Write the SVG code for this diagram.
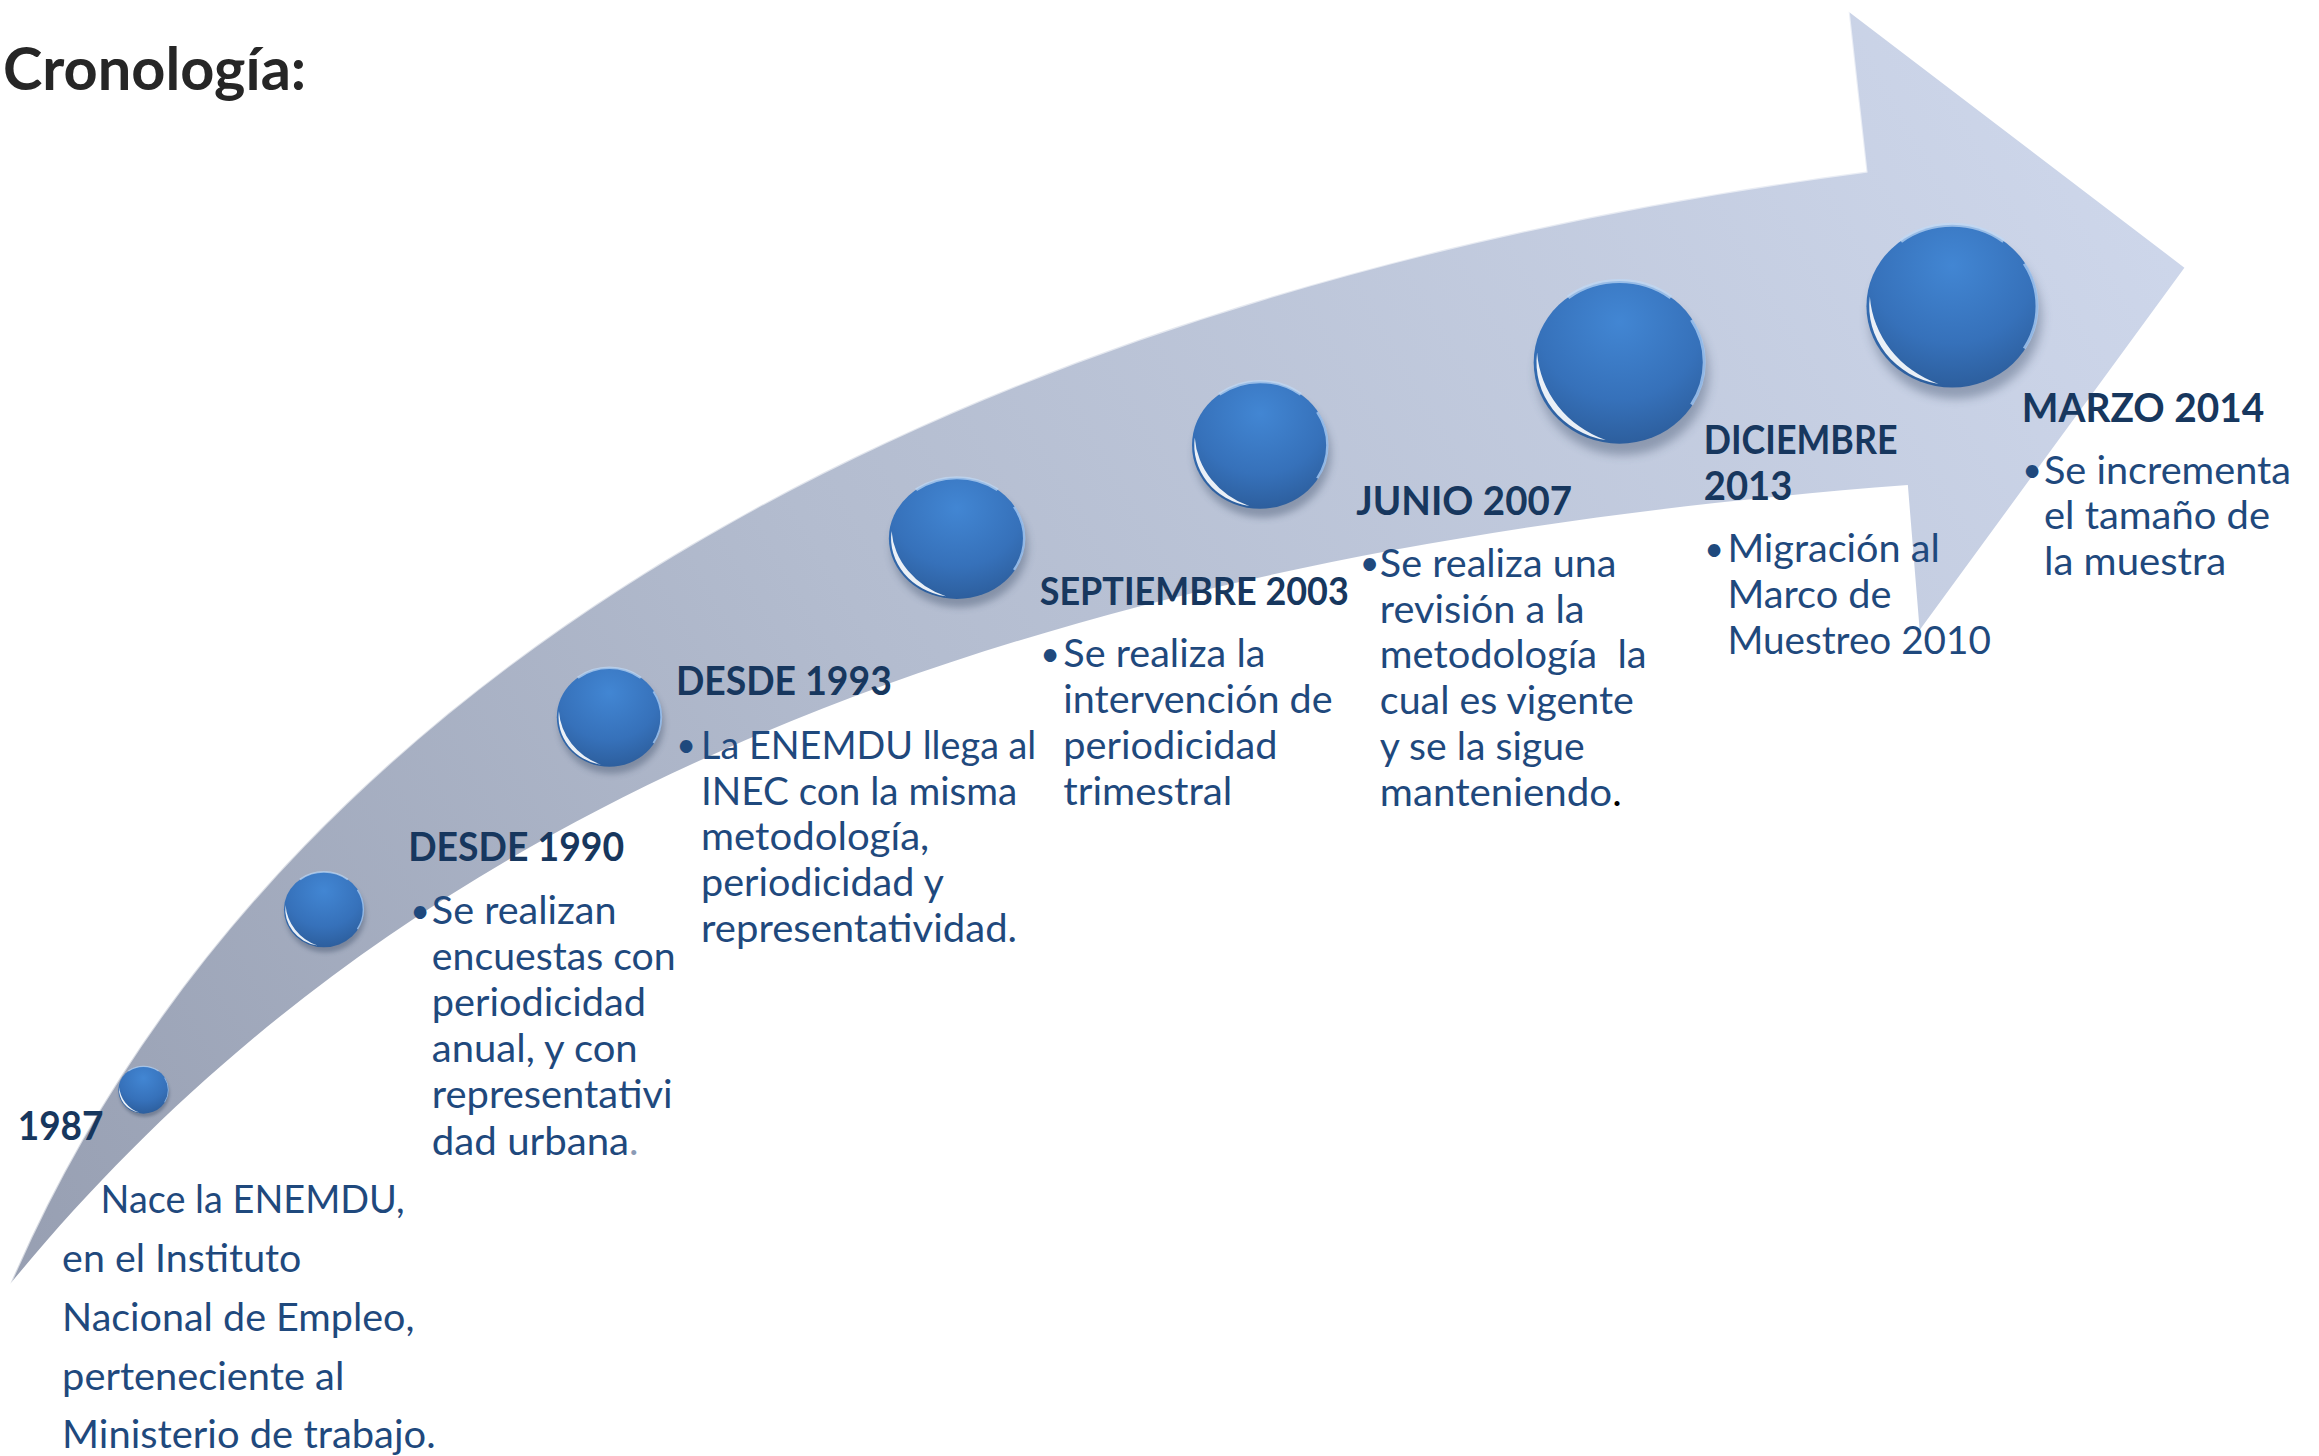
<svg xmlns="http://www.w3.org/2000/svg" xmlns:xlink="http://www.w3.org/1999/xlink" width="2319" height="1456" viewBox="0 0 2319 1456">
<style>
.title{font-family:Lato,"Open Sans","Liberation Sans",sans-serif;font-weight:700;font-size:40px;fill:#262626}
.h{font-family:Lato,"Open Sans","Liberation Sans",sans-serif;font-weight:700;font-size:27.5px;fill:#17375E}
.hs{font-size:25.5px}
.b{font-family:Lato,"Open Sans","Liberation Sans",sans-serif;font-size:25.7px;fill:#1F497D}
.bul{font-family:Lato,"Open Sans","Liberation Sans",sans-serif;font-size:23px;fill:#1F497D;text-anchor:middle}
</style>
<defs>
  <linearGradient id="arrowGrad" gradientUnits="userSpaceOnUse" x1="7" y1="868" x2="1400" y2="60">
    <stop offset="0" stop-color="#979FB2"/>
    <stop offset="0.45" stop-color="#B3BCCF"/>
    <stop offset="1" stop-color="#CDD6EA"/>
  </linearGradient>
  <radialGradient id="ballGrad" cx="0.5" cy="0.25" r="0.8">
    <stop offset="0" stop-color="#4286D3"/>
    <stop offset="0.6" stop-color="#3671BA"/>
    <stop offset="1" stop-color="#2B5B98"/>
  </radialGradient>
  <filter id="soft" x="-30%" y="-30%" width="160%" height="170%">
    <feGaussianBlur stdDeviation="3"/>
  </filter>
  <g id="ball">
    <ellipse cx="2" cy="7" rx="50" ry="50" fill="#2C3E5A" opacity="0.35" filter="url(#soft)"/>
    <circle r="50" fill="url(#ballGrad)"/>
    <path d="M -48,-6 A 48.5 48.5 0 0 0 -8,47.8 A 62 62 0 0 1 -48,-6 Z" fill="#FFFFFF" opacity="0.9"/>
    <path d="M -30,-40 A 50 50 0 0 1 30,-40" fill="none" stroke="#BFD8F5" stroke-width="2.5" opacity="0.7"/>
    <path d="M 42,-26 A 49 49 0 0 1 42,26" fill="none" stroke="#A9CBF2" stroke-width="1.8" opacity="0.8"/>
  </g>
</defs>
<rect width="2319" height="1456" fill="#FFFFFF"/>
<g transform="scale(1.47895)">
  <g id="title">
    <text class="title" x="2" y="61" textLength="205" lengthAdjust="spacingAndGlyphs">Cronología:</text>
  </g>
  <g id="connectors">
    <path id="timeline-arrow" d="M 7,868 C 200,420 700,190 1262,116 L 1250,8 L 1477,181 L 1298,426 L 1290,328 C 600,380 235,590 7,868 Z" fill="url(#arrowGrad)"/>
    <path d="M 7,868 C 200,420 700,190 1262,116 L 1250,8" fill="none" stroke="#FFFFFF" stroke-width="1.5" opacity="0.6"/>
  </g>
  <g id="node-1987">
    <use xlink:href="#ball" href="#ball" transform="translate(97,737) scale(0.34,0.32)"/>
    <text class="h" x="12" y="771" textLength="58" lengthAdjust="spacingAndGlyphs">1987</text>
    <text class="b" x="68" y="820" textLength="205.6" lengthAdjust="spacingAndGlyphs">Nace la ENEMDU,</text>
    <text class="b" x="42" y="860" textLength="161.8" lengthAdjust="spacingAndGlyphs">en el Instituto</text>
    <text class="b" x="42" y="900" textLength="238.2" lengthAdjust="spacingAndGlyphs">Nacional de Empleo,</text>
    <text class="b" x="42" y="940" textLength="190.8" lengthAdjust="spacingAndGlyphs">perteneciente al</text>
    <text class="b" x="42" y="979" textLength="252.5" lengthAdjust="spacingAndGlyphs">Ministerio de trabajo.</text>
  </g>
  <g id="node-1990">
    <use xlink:href="#ball" href="#ball" transform="translate(219,615) scale(0.54,0.51)"/>
    <text class="h" x="276" y="582" textLength="146" lengthAdjust="spacingAndGlyphs">DESDE 1990</text>
    <text class="bul" x="284" y="624">•</text>
    <text class="b" x="292" y="625" textLength="124.9" lengthAdjust="spacingAndGlyphs">Se realizan</text>
    <text class="b" x="292" y="656" textLength="164.9" lengthAdjust="spacingAndGlyphs">encuestas con</text>
    <text class="b" x="292" y="687" textLength="144.8" lengthAdjust="spacingAndGlyphs">periodicidad</text>
    <text class="b" x="292" y="718" textLength="139.2" lengthAdjust="spacingAndGlyphs">anual, y con</text>
    <text class="b" x="292" y="749" textLength="162.8" lengthAdjust="spacingAndGlyphs">representativi</text>
    <text class="b" x="292" y="781" textLength="139.8" lengthAdjust="spacingAndGlyphs">dad urbana<tspan fill="#8C9BB5">.</tspan></text>
  </g>
  <g id="node-1993">
    <use xlink:href="#ball" href="#ball" transform="translate(412,485) scale(0.71,0.67)"/>
    <text class="h" x="457" y="470" textLength="146" lengthAdjust="spacingAndGlyphs">DESDE 1993</text>
    <text class="bul" x="464" y="512">•</text>
    <text class="b" x="474" y="513" textLength="226.7" lengthAdjust="spacingAndGlyphs">La ENEMDU llega al</text>
    <text class="b" x="474" y="544" textLength="213.8" lengthAdjust="spacingAndGlyphs">INEC con la misma</text>
    <text class="b" x="474" y="575" textLength="154.3" lengthAdjust="spacingAndGlyphs">metodología,</text>
    <text class="b" x="474" y="606" textLength="164.2" lengthAdjust="spacingAndGlyphs">periodicidad y</text>
    <text class="b" x="474" y="637" textLength="213.7" lengthAdjust="spacingAndGlyphs">representatividad.</text>
  </g>
  <g id="node-2003">
    <use xlink:href="#ball" href="#ball" transform="translate(647,364) scale(0.92,0.82)"/>
    <text class="h hs" x="703" y="409" textLength="209" lengthAdjust="spacingAndGlyphs">SEPTIEMBRE 2003</text>
    <text class="bul" x="710" y="450">•</text>
    <text class="b" x="719" y="451" textLength="136.6" lengthAdjust="spacingAndGlyphs">Se realiza la</text>
    <text class="b" x="719" y="482" textLength="182" lengthAdjust="spacingAndGlyphs">intervención de</text>
    <text class="b" x="719" y="513" textLength="144.8" lengthAdjust="spacingAndGlyphs">periodicidad</text>
    <text class="b" x="719" y="544" textLength="114.2" lengthAdjust="spacingAndGlyphs">trimestral</text>
  </g>
  <g id="node-2007">
    <use xlink:href="#ball" href="#ball" transform="translate(852,301) scale(0.92,0.86)"/>
    <text class="h" x="917" y="348" textLength="146" lengthAdjust="spacingAndGlyphs">JUNIO 2007</text>
    <text class="bul" x="926" y="389">•</text>
    <text class="b" x="933" y="390" textLength="160" lengthAdjust="spacingAndGlyphs">Se realiza una</text>
    <text class="b" x="933" y="421" textLength="138.4" lengthAdjust="spacingAndGlyphs">revisión a la</text>
    <text class="b" x="933" y="452" textLength="180.4" lengthAdjust="spacingAndGlyphs" xml:space="preserve">metodología  la</text>
    <text class="b" x="933" y="483" textLength="171.7" lengthAdjust="spacingAndGlyphs">cual es vigente</text>
    <text class="b" x="933" y="514" textLength="138.5" lengthAdjust="spacingAndGlyphs">y se la sigue</text>
    <text class="b" x="933" y="545" textLength="163.5" lengthAdjust="spacingAndGlyphs">manteniendo<tspan fill="#000000">.</tspan></text>
  </g>
  <g id="node-2013">
    <use xlink:href="#ball" href="#ball" transform="translate(1095,245) scale(1.16,1.10)"/>
    <text class="h" x="1152" y="307" textLength="131" lengthAdjust="spacingAndGlyphs">DICIEMBRE</text>
    <text class="h" x="1152" y="338" textLength="60" lengthAdjust="spacingAndGlyphs">2013</text>
    <text class="bul" x="1159" y="379">•</text>
    <text class="b" x="1168" y="380" textLength="143.6" lengthAdjust="spacingAndGlyphs">Migración al</text>
    <text class="b" x="1168" y="411" textLength="111" lengthAdjust="spacingAndGlyphs">Marco de</text>
    <text class="b" x="1168" y="442" textLength="178.2" lengthAdjust="spacingAndGlyphs">Muestreo 2010</text>
  </g>
  <g id="node-2014">
    <use xlink:href="#ball" href="#ball" transform="translate(1320,207) scale(1.16,1.10)"/>
    <text class="h" x="1367" y="285" textLength="164" lengthAdjust="spacingAndGlyphs">MARZO 2014</text>
    <text class="bul" x="1374" y="326">•</text>
    <text class="b" x="1382" y="327" textLength="167.1" lengthAdjust="spacingAndGlyphs">Se incrementa</text>
    <text class="b" x="1382" y="358" textLength="152.9" lengthAdjust="spacingAndGlyphs">el tamaño de</text>
    <text class="b" x="1382" y="389" textLength="123.3" lengthAdjust="spacingAndGlyphs">la muestra</text>
  </g>
</g>
</svg>
